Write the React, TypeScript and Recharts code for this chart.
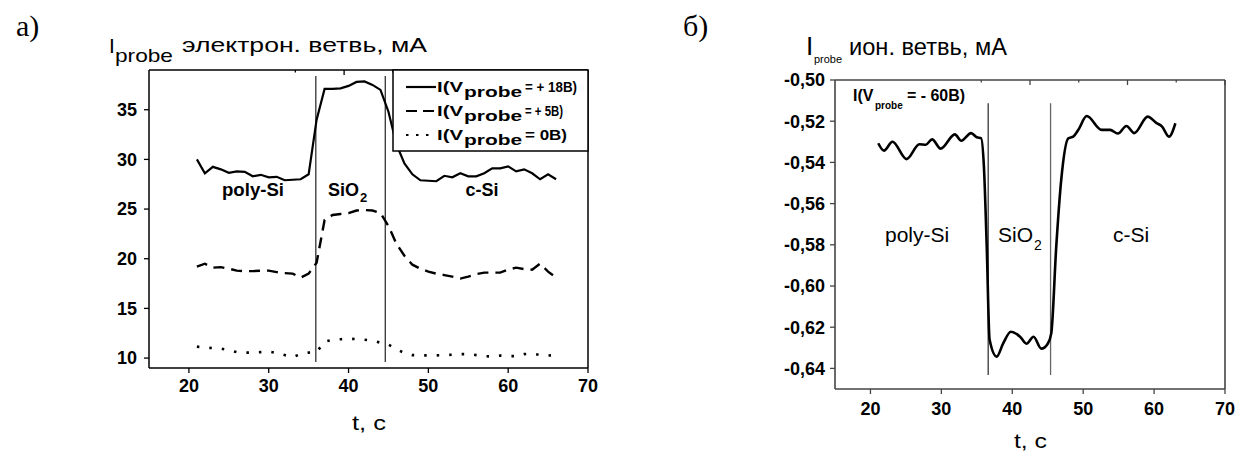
import React from 'react';
import { LineChart, Line, XAxis, YAxis, ReferenceLine } from 'recharts';

// ---- chart a) electron branch ----
const timeA = [21, 22, 23, 24, 25, 26, 27, 28, 29, 30, 31, 32, 33, 34, 35, 36, 37, 38, 39, 40, 41, 42, 43, 44, 45, 46, 47, 48, 49, 50, 51, 52, 53, 54, 55, 56, 57, 58, 59, 60, 61, 62, 63, 64, 65, 66];
const probe18 = [30.0, 28.6, 29.25, 29.0, 28.65, 28.8, 28.75, 28.3, 28.45, 28.2, 28.25, 27.9, 27.95, 28.0, 28.5, 34.0, 37.1, 37.1, 37.15, 37.4, 37.8, 37.85, 37.5, 37.0, 34.8, 31.5, 29.6, 28.5, 27.9, 27.85, 27.8, 28.35, 28.2, 28.6, 28.3, 28.3, 28.6, 29.1, 29.1, 29.3, 28.8, 29.0, 28.6, 28.0, 28.5, 28.0];
const probe5 = [19.2, 19.5, 19.1, 19.15, 19.0, 18.8, 18.75, 18.75, 18.8, 18.8, 18.65, 18.55, 18.5, 18.1, 18.5, 19.6, 23.9, 24.4, 24.5, 24.6, 24.85, 24.9, 24.85, 24.6, 23.3, 21.5, 20.3, 19.4, 19.0, 18.7, 18.5, 18.35, 18.2, 18.0, 18.2, 18.45, 18.6, 18.6, 18.6, 18.9, 19.1, 18.95, 18.9, 19.5, 18.7, 18.1];
const probe0 = [11.15, 11.05, 11.0, 10.95, 10.8, 10.6, 10.55, 10.55, 10.6, 10.65, 10.5, 10.3, 10.1, 10.4, 10.55, 10.6, 11.65, 11.85, 11.9, 11.95, 11.9, 11.85, 11.75, 11.55, 11.35, 10.9, 10.5, 10.3, 10.27, 10.27, 10.27, 10.3, 10.33, 10.4, 10.4, 10.3, 10.2, 10.15, 10.25, 10.2, 10.2, 10.4, 10.45, 10.3, 10.25, 10.3];
const boundsA = [35.9, 44.6];
const boundRangeA = [9.6, 38.4];
const yTicksA = [10, 12.5, 15, 17.5, 20, 22.5, 25, 27.5, 30, 32.5, 35, 37.5];
const yMajorsA = [10, 15, 20, 25, 30, 35];

// ---- chart б) ion branch ----
const timeB = [21.1, 21.9, 23.1, 25.1, 26.9, 27.8, 28.7, 29.9, 31.9, 32.8, 34.2, 35.0, 35.6, 36.0, 36.4, 36.8, 37.8, 38.7, 39.8, 41.1, 42.0, 43.0, 44.1, 45.0, 45.5, 46.2, 46.9, 47.9, 48.6, 49.3, 50.5, 52.6, 53.8, 54.9, 56.1, 57.2, 59.1, 60.3, 61.1, 62.1, 63.0];
const probeIon = [-0.5307, -0.5343, -0.53, -0.5384, -0.5312, -0.5314, -0.5288, -0.5333, -0.5264, -0.5295, -0.5258, -0.5278, -0.5282, -0.542, -0.581, -0.626, -0.6343, -0.628, -0.6222, -0.6246, -0.628, -0.6246, -0.6304, -0.628, -0.623, -0.581, -0.5486, -0.5283, -0.5275, -0.5243, -0.5175, -0.5242, -0.5242, -0.526, -0.5223, -0.5258, -0.5178, -0.5208, -0.5225, -0.5275, -0.521];
const boundsB = [36.6, 45.4];
const boundRangeB = [-0.6432, -0.5113];
const yTicksB = [-0.65, -0.64, -0.63, -0.62, -0.61, -0.6, -0.59, -0.58, -0.57, -0.56, -0.55, -0.54, -0.53, -0.52, -0.51, -0.5];
const yMajorsB = [-0.64, -0.62, -0.6, -0.58, -0.56, -0.54, -0.52, -0.5];

const xTicks = [15, 20, 25, 30, 35, 40, 45, 50, 55, 60, 65, 70];
const xMajors = [20, 30, 40, 50, 60, 70];

const dataA = timeA.map((t, i) => ({ t, v18: probe18[i], v5: probe5[i], v0: probe0[i] }));
const dataB = timeB.map((t, i) => ({ t, v: probeIon[i] }));

const FONT = '"Liberation Sans", Arial, Helvetica, sans-serif';
const SERIF = '"Liberation Serif", "Times New Roman", serif';
const tickFont = { fill: '#000', fontSize: 18, fontWeight: 700, fontFamily: FONT };

const commaFmt = (v: number) => v.toFixed(2).replace('.', ',');

// inward tick marks for the top and right frame sides (major long, minor short)
function inwardTick(side: string, majors: number[], color: string) {
  return (p: any) => {
    const v = Number(p.payload.value);
    const len = majors.some((m) => Math.abs(m - v) < 1e-6) ? 5 : 2.5;
    if (side === 'top') {
      const ay = p.y + 8;
      return <line x1={p.x} x2={p.x} y1={ay} y2={ay + len} stroke={color} strokeWidth={1.3} />;
    }
    const ax = p.x - 8;
    return <line x1={ax - len} x2={ax} y1={p.y} y2={p.y} stroke={color} strokeWidth={1.3} />;
  };
}

function ElectronChart() {
  const c = '#000';
  const axisLine = { stroke: c, strokeWidth: 1.5 };
  const tl = { stroke: c, strokeWidth: 1.3 };
  return (
    <LineChart width={620} height={454} data={dataA} margin={{ top: 69, right: 31, bottom: 84, left: 147 }}>
      <XAxis dataKey="t" type="number" domain={[15, 70]} ticks={xMajors} interval={0} height={1} tickSize={5} tickMargin={6}
        tickLine={tl} axisLine={axisLine} tick={tickFont} />
      <XAxis xAxisId="minor" dataKey="t" type="number" domain={[15, 70]} ticks={xTicks} interval={0} height={1} tickSize={2.5}
        tickLine={tl} axisLine={false} tick={false} />
      <XAxis xAxisId="top" orientation="top" type="number" domain={[15, 70]} ticks={xTicks} interval={0} height={1}
        tickSize={6} tickMargin={2} tickLine={false} axisLine={axisLine} tick={inwardTick('top', xMajors, c)} />
      <YAxis type="number" domain={[9, 39]} ticks={yMajorsA} interval={0} width={1} tickSize={5} tickMargin={7}
        tickLine={tl} axisLine={axisLine} tick={tickFont} />
      <YAxis yAxisId="minor" type="number" domain={[9, 39]} ticks={yTicksA} interval={0} width={1} tickSize={2.5}
        tickLine={tl} axisLine={false} tick={false} />
      <YAxis yAxisId="right" orientation="right" type="number" domain={[9, 39]} ticks={yTicksA} interval={0} width={1}
        tickSize={6} tickMargin={2} tickLine={false} axisLine={axisLine} tick={inwardTick('right', yMajorsA, c)} />
      {boundsA.map((b) => (
        <ReferenceLine key={b} segment={[{ x: b, y: boundRangeA[0] }, { x: b, y: boundRangeA[1] }]} stroke="#222" strokeWidth={1.2} />
      ))}
      <Line type="linear" dataKey="v18" stroke="#000" strokeWidth={2.2} dot={false} isAnimationActive={false} />
      <Line type="linear" dataKey="v5" stroke="#000" strokeWidth={2.4} strokeDasharray="11 7" dot={false} isAnimationActive={false} />
      <Line type="linear" dataKey="v0" stroke="#000" strokeWidth={2.6} strokeDasharray="2.5 10" dot={false} isAnimationActive={false} />
    </LineChart>
  );
}

function IonChart() {
  const c = '#444';
  const axisLine = { stroke: c, strokeWidth: 1.6 };
  const tl = { stroke: c, strokeWidth: 1.3 };
  return (
    <LineChart width={618} height={454} data={dataB} margin={{ top: 79, right: 12, bottom: 63, left: 213 }}>
      <XAxis dataKey="t" type="number" domain={[15, 70]} ticks={xMajors} interval={0} height={1} tickSize={5} tickMargin={8}
        tickLine={tl} axisLine={axisLine} tick={tickFont} />
      <XAxis xAxisId="minor" dataKey="t" type="number" domain={[15, 70]} ticks={xTicks} interval={0} height={1} tickSize={2.5}
        tickLine={tl} axisLine={false} tick={false} />
      <XAxis xAxisId="top" orientation="top" type="number" domain={[15, 70]} ticks={xTicks} interval={0} height={1}
        tickSize={6} tickMargin={2} tickLine={false} axisLine={axisLine} tick={inwardTick('top', xMajors, c)} />
      <YAxis type="number" domain={[-0.65, -0.5]} ticks={yMajorsB} interval={0} width={1} tickSize={5} tickMargin={5}
        tickLine={tl} axisLine={axisLine} tick={tickFont} tickFormatter={commaFmt} />
      <YAxis yAxisId="minor" type="number" domain={[-0.65, -0.5]} ticks={yTicksB} interval={0} width={1} tickSize={2.5}
        tickLine={tl} axisLine={false} tick={false} />
      <YAxis yAxisId="right" orientation="right" type="number" domain={[-0.65, -0.5]} ticks={yTicksB} interval={0} width={1}
        tickSize={6} tickMargin={2} tickLine={false} axisLine={axisLine} tick={inwardTick('right', yMajorsB, c)} />
      <ReferenceLine segment={[{ x: boundsB[0], y: boundRangeB[0] }, { x: boundsB[0], y: boundRangeB[1] }]} stroke="#111" strokeWidth={1.1} />
      <ReferenceLine segment={[{ x: boundsB[1], y: boundRangeB[0] }, { x: boundsB[1], y: boundRangeB[1] }]} stroke="#666" strokeWidth={1.3} />
      <Line type="monotone" dataKey="v" stroke="#000" strokeWidth={2.6} dot={false} isAnimationActive={false} />
    </LineChart>
  );
}

function LegendRow({ y, dash, tail, end }: { y: number; dash?: string; tail: string; end: number }) {
  return (
    <g>
      <line x1={406} x2={436} y1={y - 5} y2={y - 5} stroke="#000" strokeWidth={2.2} strokeDasharray={dash} />
      <text x={437} y={y} fontFamily={FONT} fontWeight="bold" fontSize={15} textLength={26} lengthAdjust="spacingAndGlyphs">I(V</text>
      <text x={464} y={y + 5} fontFamily={FONT} fontWeight="bold" fontSize={15} textLength={58} lengthAdjust="spacingAndGlyphs">probe</text>
      <text x={525} y={y} fontFamily={FONT} fontWeight="bold" fontSize={15} textLength={end - 525} lengthAdjust="spacingAndGlyphs">{tail}</text>
    </g>
  );
}

function Overlay() {
  return (
    <svg width={1238} height={454} style={{ position: 'absolute', left: 0, top: 0, pointerEvents: 'none' }}>
      {/* panel letters */}
      <text x={16} y={36} fontFamily={SERIF} fontSize={30}>а)</text>
      <text x={683} y={36} fontFamily={SERIF} fontSize={30}>б)</text>

      {/* chart a titles */}
      <text x={109} y={53} fontFamily={FONT} fontSize={21}>I</text>
      <text x={115} y={62} fontFamily={FONT} fontSize={19} textLength={58} lengthAdjust="spacingAndGlyphs">probe</text>
      <text x={182} y={52} fontFamily={FONT} fontSize={20} textLength={245} lengthAdjust="spacingAndGlyphs">электрон. ветвь, мА</text>
      <text x={352} y={430} fontFamily={FONT} fontSize={21} textLength={34} lengthAdjust="spacingAndGlyphs">t, c</text>

      <text x={222} y={196} fontFamily={FONT} fontWeight="bold" fontSize={18} textLength={62} lengthAdjust="spacingAndGlyphs">poly-Si</text>
      <text x={328} y={196} fontFamily={FONT} fontWeight="bold" fontSize={18}>SiO</text>
      <text x={360} y={202} fontFamily={FONT} fontWeight="bold" fontSize={13}>2</text>
      <text x={482} y={196} textAnchor="middle" fontFamily={FONT} fontWeight="bold" fontSize={18}>c-Si</text>

      {/* chart a legend */}
      <rect x={393} y={70} width={195} height={81} fill="#fff" stroke="#000" strokeWidth={1.5} />
      <LegendRow y={92} tail="= + 18B)" end={577} />
      <LegendRow y={116} dash="11 6" tail="= + 5B)" end={563} />
      <LegendRow y={140} dash="2.5 7.5" tail="=  0B)" end={567} />

      {/* chart б titles */}
      <text x={806} y={55} fontFamily={FONT} fontSize={26}>I</text>
      <text x={814} y={63} fontFamily={FONT} fontSize={10} textLength={28} lengthAdjust="spacingAndGlyphs">probe</text>
      <text x={849} y={55} fontFamily={FONT} fontSize={24} textLength={158} lengthAdjust="spacingAndGlyphs">ион. ветвь, мА</text>
      <text x={1014} y={448} fontFamily={FONT} fontSize={21} textLength={33} lengthAdjust="spacingAndGlyphs">t, c</text>

      <text x={853} y={101} fontFamily={FONT} fontWeight="bold" fontSize={16}>I(V</text>
      <text x={875} y={109} fontFamily={FONT} fontWeight="bold" fontSize={10}>probe</text>
      <text x={907} y={101} fontFamily={FONT} fontWeight="bold" fontSize={16} textLength={58} lengthAdjust="spacingAndGlyphs">= - 60B)</text>

      <text x={885} y={242} fontFamily={FONT} fontSize={21}>poly-Si</text>
      <text x={998} y={242} fontFamily={FONT} fontSize={21}>SiO</text>
      <text x={1034} y={250} fontFamily={FONT} fontSize={14}>2</text>
      <text x={1113} y={242} fontFamily={FONT} fontSize={21}>c-Si</text>
    </svg>
  );
}

export default function App() {
  return (
    <div style={{ position: 'absolute', left: 0, top: 0, width: 1238, height: 454, background: '#fff', overflow: 'hidden' }}>
      <div style={{ position: 'absolute', left: 0, top: 0 }}>
        <ElectronChart />
      </div>
      <div style={{ position: 'absolute', left: 620, top: 0 }}>
        <IonChart />
      </div>
      <Overlay />
    </div>
  );
}
